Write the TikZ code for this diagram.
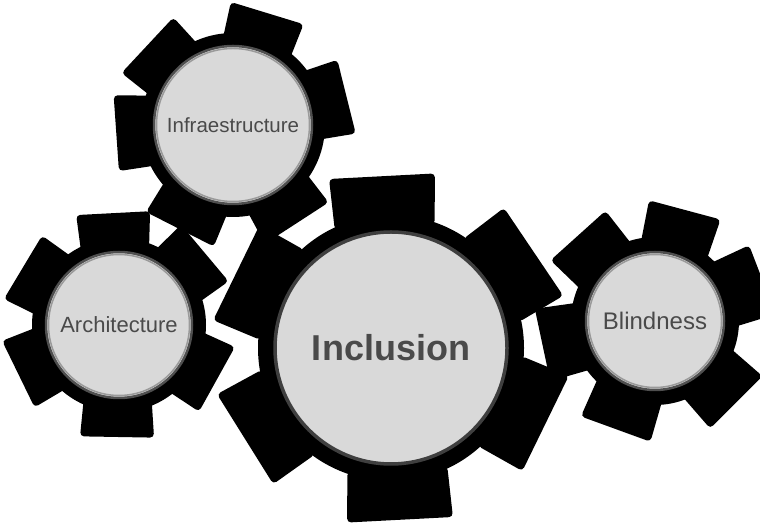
\documentclass[tikz,border=0pt]{standalone}
\usepackage{fontspec}
\setmainfont{Liberation Sans}
\definecolor{discfill}{HTML}{D9D9D9}
\definecolor{discline}{HTML}{4F4F4F}
\definecolor{discsoft}{HTML}{9A9A9A}
\definecolor{txt}{HTML}{4A4A4A}
\definecolor{gearblack}{HTML}{000000}
\newcommand{\drawgear}[6]{%
  \begin{scope}[shift={(#1,#2)}]
    \fill[gearblack] (0,0) circle (#3);
    \foreach \a in {#6} {
      \fill[gearblack, rotate=\a, rounded corners=4pt]
        (#3-12,-#5) -- (#4,-#5-3) -- (#4,#5+3) -- (#3-12,#5) -- cycle;
    }
  \end{scope}}
\tikzset{
  disc/.style={circle, fill=discfill, draw=discline, line width=2.5pt,
    inner sep=0pt, text=txt},
  softring/.style={draw=discsoft, line width=1.5pt}
}
\begin{document}
\begin{tikzpicture}[x=1pt,y=1pt]
  \useasboundingbox (0,0) rectangle (760,527);
  \fill[white] (0,0) rectangle (760,527);
  % gears
  \drawgear{233}{402}{92}{117}{35}{14,73,137,184,243,303}
  \drawgear{119}{202}{87}{112}{34}{93,40,-29,-91,206,149}
  \drawgear{655}{206}{84}{115}{34}{21,75,132,192,250,315}
  \drawgear{391}{179}{133}{172}{50}{93,34,-26,-87,-148,154}
  % discs with labels
  \node[disc, minimum size=158pt, font=\fontsize{20.5}{24}\selectfont] (infra) at (233,402) {Infraestructure};
  \node[disc, minimum size=146pt, font=\fontsize{22}{26}\selectfont] (arch) at (119,202) {Architecture};
  \node[disc, minimum size=138pt, font=\fontsize{24}{28}\selectfont] (blind) at (655,206) {Blindness};
  \node[disc, minimum size=232pt, draw=discline!80!black, line width=3.5pt, font=\fontsize{36}{40}\selectfont\bfseries] (incl) at (391,179) {Inclusion};
  % soft inner rings
  \draw[softring] (infra.center) circle (76.5);
  \draw[softring] (arch.center) circle (70.5);
  \draw[softring] (blind.center) circle (66.5);
\end{tikzpicture}
\end{document}
